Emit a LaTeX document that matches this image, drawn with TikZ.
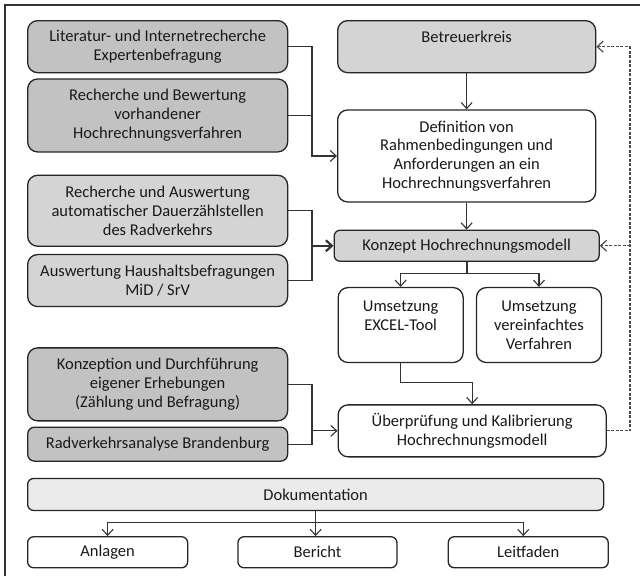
\documentclass[tikz,border=0pt]{standalone}
\usepackage{fontspec}
\setmainfont{Carlito}
\usetikzlibrary{positioning,arrows.meta}
\tikzset{
  box/.style={draw=black!85, line width=1.3pt, rounded corners=10pt, align=center, inner sep=3pt, text=black!90},
  darkbox/.style={box, fill=black!24},
  midbox/.style={box, fill=black!17},
  lightbox/.style={box, fill=black!8},
  whitebox/.style={box, fill=white},
  flatbox/.style={rounded corners=6pt},
  conn/.style={draw=black!80, line width=1.1pt},
  boldconn/.style={conn, line width=2.2pt},
  feedback/.style={conn, draw=black!70, line width=1.2pt, dash pattern=on 3pt off 1.5pt}
}
\begin{document}
\begin{tikzpicture}[x=1pt, y=-1pt, >={Straight Barb[length=6pt,width=11pt]},
  font=\fontsize{16.5}{18.8}\selectfont]
\useasboundingbox (0,0) rectangle (640,576);
\draw[conn] (5,576) -- (5,5) -- (640,5);

% left column
\node[darkbox, minimum width=260pt, minimum height=52pt, anchor=north west] (lit) at (27,20) {Literatur- und Internetrecherche\\Expertenbefragung};
\node[darkbox, minimum width=260pt, minimum height=73pt, below=5pt of lit] (bewert) {Recherche und Bewertung\\vorhandener\\Hochrechnungsverfahren};
\node[midbox, minimum width=260pt, minimum height=71pt, below=22pt of bewert] (dauer) {Recherche und Auswertung\\automatischer Dauerzählstellen\\des Radverkehrs};
\node[midbox, minimum width=260pt, minimum height=52pt, below=7pt of dauer] (haushalt) {Auswertung Haushaltsbefragungen\\MiD / SrV};
\node[darkbox, minimum width=260pt, minimum height=73pt, below=40pt of haushalt] (erheb) {Konzeption und Durchführung\\eigener Erhebungen\\(Zählung und Befragung)};
\node[darkbox, rounded corners=7pt, minimum width=260pt, minimum height=34pt, below=5pt of erheb] (brand) {Radverkehrsanalyse Brandenburg};

% right column
\node[midbox, minimum width=258pt, minimum height=52pt, anchor=north west] (betreuer) at (337,20) {Betreuerkreis\\\mbox{}};
\node[whitebox, minimum width=258pt, minimum height=92pt, below=36pt of betreuer] (rahmen) {Definition von\\Rahmenbedingungen und\\Anforderungen an ein\\Hochrechnungsverfahren};
\node[midbox, flatbox, minimum width=265pt, minimum height=31pt, below=27pt of rahmen] (konzept) {Konzept Hochrechnungsmodell};
\node[whitebox, minimum width=125pt, minimum height=75pt, below right=25pt and 4pt of konzept.south west] (excel) {Umsetzung\\EXCEL-Tool\\\mbox{}};
\node[whitebox, minimum width=125pt, minimum height=75pt, right=12pt of excel] (einfach) {Umsetzung\\vereinfachtes\\Verfahren};
\node[whitebox, minimum width=268pt, minimum height=52pt, below right=41pt and 0pt of excel.south west] (kalib) {Überprüfung und Kalibrierung\\Hochrechnungsmodell};

% documentation
\node[lightbox, flatbox, minimum width=576pt, minimum height=32pt, below right=16pt and 0pt of brand.south west] (doku) {Dokumentation};
\node[whitebox, flatbox, minimum width=160pt, minimum height=31pt, below right=25pt and 0pt of doku.south west] (anlagen) {Anlagen};
\node[whitebox, flatbox, minimum width=159pt, minimum height=31pt, right=49pt of anlagen] (bericht) {Bericht};
\node[whitebox, flatbox, minimum width=160pt, minimum height=31pt, right=50pt of bericht] (leitfaden) {Leitfaden};

% connectors
\coordinate (bus) at (312,0);
\coordinate (back) at (630,0);
\draw[conn, ->] (lit.east) -| (rahmen.west -| bus) -- (rahmen.west);
\draw[conn] (bewert.east) -- (bewert.east -| bus);
\draw[conn] (dauer.east) -| (haushalt.east -| bus) -- (haushalt.east);
\draw[boldconn, ->] (konzept.west -| bus) -- (konzept.west);
\draw[conn] (erheb.east) -| (brand.east -| bus) -- (brand.east);
\draw[conn, ->] (kalib.west -| bus) -- (kalib.west);
\draw[conn, ->] (betreuer) -- (rahmen);
\draw[conn, ->] (rahmen.south) -- (rahmen.south |- konzept.north);
\draw[boldconn] (konzept.south) -- ++(0,12) coordinate (split);
\draw[conn, ->] (split) -| (excel.north);
\draw[conn, ->] (split) -| (einfach.north);
\draw[conn, ->] (excel.south) -- ++(0,19) -| (kalib.north);
\draw[feedback, ->] (kalib.east) -| (betreuer.east -| back) -- (betreuer.east);
\draw[feedback, ->] (konzept.east -| back) -- (konzept.east);
\draw[conn] (doku.south) -- ++(0,11) coordinate (dsplit);
\draw[conn, ->] (dsplit) -| (anlagen.north);
\draw[conn, ->] (dsplit) -- (dsplit |- bericht.north);
\draw[conn, ->] (dsplit) -| ([xshift=-5pt]leitfaden.north);
\end{tikzpicture}
\end{document}
